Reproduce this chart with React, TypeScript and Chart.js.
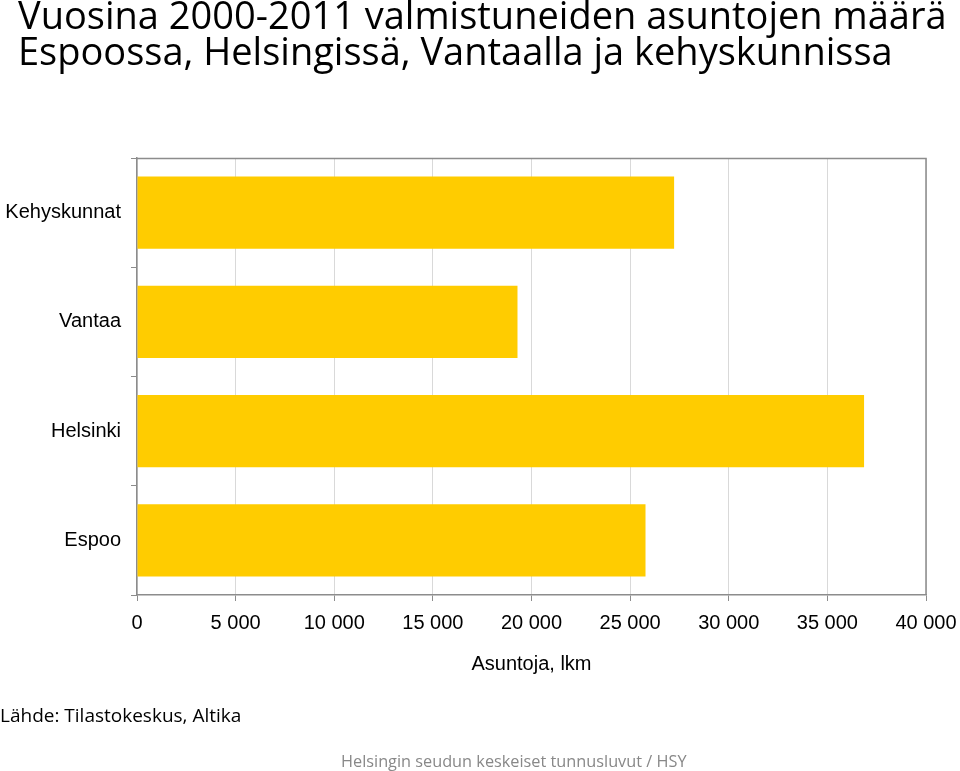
import React, { useEffect, useRef } from "react";
import { Chart, registerables } from "chart.js";

Chart.register(...registerables);

const categories: string[] = ["Kehyskunnat", "Vantaa", "Helsinki", "Espoo"];
const dwellings: number[] = [27230, 19290, 36860, 25780];
const axisMin = 0;
const axisMax = 40000;
const axisStep = 5000;

const titleLines: string[] = [
  "Vuosina 2000-2011 valmistuneiden asuntojen määrä",
  "Espoossa, Helsingissä, Vantaalla ja kehyskunnissa",
];
const xAxisTitle = "Asuntoja, lkm";
const sourceText = "Lähde: Tilastokeskus, Altika";
const footerText = "Helsingin seudun keskeiset tunnusluvut / HSY";

const fmt = (v: number) => String(v).replace(/\B(?=(\d{3})+(?!\d))/g, " ");

const frameBorder = {
  id: "frameBorder",
  afterDatasetsDraw(chart: any) {
    const { ctx, chartArea } = chart;
    ctx.save();
    ctx.strokeStyle = "#8c8c8c";
    ctx.lineWidth = 1.5;
    ctx.beginPath();
    ctx.moveTo(chartArea.left, chartArea.top + 0.5);
    ctx.lineTo(chartArea.right, chartArea.top + 0.5);
    ctx.lineTo(chartArea.right, chartArea.bottom);
    ctx.stroke();
    ctx.restore();
  },
};

export default function App() {
  const ref = useRef<HTMLCanvasElement | null>(null);

  useEffect(() => {
    document.body.style.margin = "0";
    if (!ref.current) return;
    const chart = new Chart(ref.current, {
      type: "bar",
      data: {
        labels: categories,
        datasets: [
          {
            data: dwellings,
            backgroundColor: "#FFCC00",
            borderWidth: 0,
            barPercentage: 0.66,
            categoryPercentage: 1,
          },
        ],
      },
      options: {
        indexAxis: "y",
        animation: false,
        responsive: false,
        maintainAspectRatio: false,
        layout: { padding: { top: 158, right: 34, left: 0, bottom: 95 } },
        plugins: {
          legend: { display: false },
          tooltip: { enabled: false },
          title: { display: false },
        },
        scales: {
          x: {
            min: axisMin,
            max: axisMax,
            afterFit: (scale: any) => {
              scale.paddingRight = 0;
              scale.paddingLeft = 0;
            },
            ticks: {
              stepSize: axisStep,
              color: "#000",
              padding: 10,
              font: { family: "'Liberation Sans', Arial, sans-serif", size: 20 },
              callback: (v: any) => fmt(Number(v)),
              maxRotation: 0,
            },
            grid: {
              color: "#d9d9d9",
              lineWidth: 1,
              tickColor: "#8c8c8c",
              tickLength: 6,
              drawTicks: true,
            },
            border: { color: "#8c8c8c", width: 1.5 },
            title: {
              display: true,
              text: xAxisTitle,
              color: "#000",
              font: { family: "'Liberation Sans', Arial, sans-serif", size: 20 },
              padding: { top: 7, bottom: 0 },
            },
          },
          y: {
            afterFit: (scale: any) => {
              scale.width = 137;
            },
            ticks: {
              color: "#000",
              padding: 10,
              font: { family: "'Liberation Sans', Arial, sans-serif", size: 20 },
            },
            grid: {
              drawOnChartArea: false,
              drawTicks: true,
              tickLength: 6,
              tickColor: "#8c8c8c",
              offset: true,
            },
            border: { color: "#8c8c8c", width: 1.5 },
          },
        },
      },
      plugins: [frameBorder],
    });
    return () => chart.destroy();
  }, []);

  const calib = "'Open Sans', 'Noto Sans', sans-serif";

  return (
    <div style={{ position: "relative", width: 960, height: 771, background: "#fff", overflow: "hidden" }}>
      <canvas ref={ref} width={960} height={771} style={{ position: "absolute", left: 0, top: 0, width: 960, height: 771 }} />
      <div
        style={{
          position: "absolute",
          left: 18,
          top: -4,
          fontFamily: calib,
          fontSize: 38,
          lineHeight: "36px",
          color: "#000",
          whiteSpace: "nowrap",
        }}
      >
        <div>{titleLines[0]}</div>
        <div>{titleLines[1]}</div>
      </div>
      <div
        style={{
          position: "absolute",
          left: 0,
          top: 703,
          fontFamily: calib,
          fontSize: 19,
          lineHeight: "24px",
          color: "#000",
          whiteSpace: "nowrap",
        }}
      >
        {sourceText}
      </div>
      <div
        style={{
          position: "absolute",
          left: 341,
          top: 750,
          fontFamily: calib,
          fontSize: 16.3,
          lineHeight: "22px",
          color: "#888",
          whiteSpace: "nowrap",
        }}
      >
        {footerText}
      </div>
    </div>
  );
}
